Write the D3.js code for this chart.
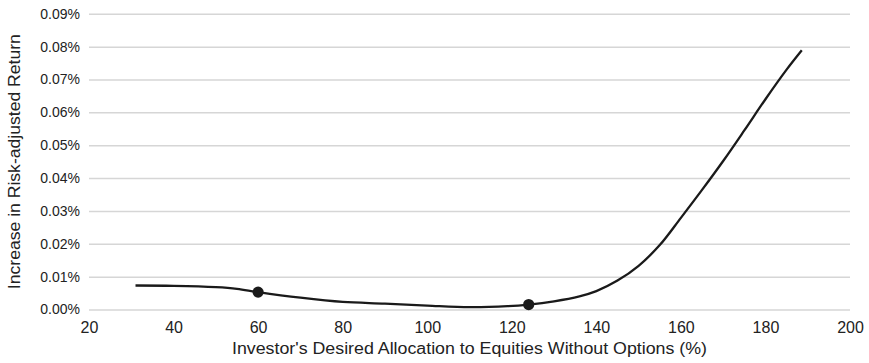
<!DOCTYPE html>
<html>
<head>
<meta charset="utf-8">
<script src="https://cdn.jsdelivr.net/npm/d3@7"></script>
<style>
  html, body { margin: 0; padding: 0; background: #fff; }
  svg { display: block; font-family: "Liberation Sans", Arial, Helvetica, sans-serif; }
</style>
</head>
<body>
<svg id="chart" width="869" height="363"></svg>
<script>
// Desired equity allocation (%) and the increase in risk-adjusted return (%)
const allocation = [31, 40, 50, 55, 60, 70, 80, 90, 100, 110, 119, 124, 130, 136, 140,
                    145, 150, 155, 160, 165, 170, 175, 180, 185, 188.6];
const increase = [0.0073, 0.0072, 0.0068, 0.0063, 0.0053, 0.0036, 0.0023, 0.0018, 0.0012,
                  0.0007, 0.0010, 0.0015, 0.0025, 0.0040, 0.0056, 0.0088, 0.0133, 0.0196,
                  0.0279, 0.0364, 0.0452, 0.0545, 0.0640, 0.0730, 0.0789];

// Highlighted allocations
const markerAllocation = [60, 124];
const markerIncrease = [0.0053, 0.0015];

const xTicks = [20, 40, 60, 80, 100, 120, 140, 160, 180, 200];
const yTicks = [0, 0.01, 0.02, 0.03, 0.04, 0.05, 0.06, 0.07, 0.08, 0.09];

const xTitle = "Investor's Desired Allocation to Equities Without Options (%)";
const yTitle = "Increase in Risk-adjusted Return";

const svg = d3.select("#chart");
const plotLeft = 89, plotRight = 850, plotTop = 13.8, plotBottom = 309.5;

const x = d3.scaleLinear().domain([20, 200]).range([plotLeft, plotRight]);
const y = d3.scaleLinear().domain([0, 0.09]).range([plotBottom, plotTop]);

const textColor = "#222";

// Horizontal gridlines with percentage labels
const yAxis = d3.axisLeft(y)
  .tickValues(yTicks)
  .tickSize(-(plotRight - plotLeft))
  .tickPadding(9)
  .tickFormat(d => d.toFixed(2) + "%");

const gy = svg.append("g")
  .attr("transform", `translate(${plotLeft},0)`)
  .call(yAxis);
gy.select(".domain").remove();
gy.selectAll(".tick line").attr("stroke", "#d6d6d6").attr("stroke-width", 1.5);
gy.selectAll(".tick text")
  .attr("fill", textColor)
  .style("font-size", "14px");

// Bottom axis: labels only
const xAxis = d3.axisBottom(x)
  .tickValues(xTicks)
  .tickSize(0)
  .tickPadding(12.5)
  .tickFormat(d3.format("d"));

const gx = svg.append("g")
  .attr("transform", `translate(0,${plotBottom})`)
  .call(xAxis);
gx.select(".domain").remove();
gx.selectAll(".tick text")
  .attr("fill", textColor)
  .style("font-size", "16px");

// Curve
const line = d3.line()
  .x((d, i) => x(allocation[i]))
  .y((d, i) => y(increase[i]))
  .curve(d3.curveCatmullRom.alpha(0.5));

svg.append("path")
  .datum(increase)
  .attr("d", line)
  .attr("fill", "none")
  .attr("stroke", "#1a1a1a")
  .attr("stroke-width", 2.3)
  .attr("stroke-linejoin", "round");

// Markers
svg.append("g")
  .selectAll("circle")
  .data(markerAllocation)
  .join("circle")
  .attr("cx", d => x(d))
  .attr("cy", (d, i) => y(markerIncrease[i]))
  .attr("r", 5.6)
  .attr("fill", "#1a1a1a");

// Axis titles
svg.append("text")
  .attr("x", (plotLeft + plotRight) / 2)
  .attr("y", 354)
  .attr("text-anchor", "middle")
  .attr("fill", textColor)
  .attr("textLength", 475)
  .attr("lengthAdjust", "spacingAndGlyphs")
  .style("font-size", "16px")
  .text(xTitle);

svg.append("text")
  .attr("transform", `translate(20,${(plotTop + plotBottom) / 2}) rotate(-90)`)
  .attr("text-anchor", "middle")
  .attr("fill", textColor)
  .attr("textLength", 255)
  .attr("lengthAdjust", "spacingAndGlyphs")
  .style("font-size", "16px")
  .text(yTitle);
</script>
</body>
</html>
